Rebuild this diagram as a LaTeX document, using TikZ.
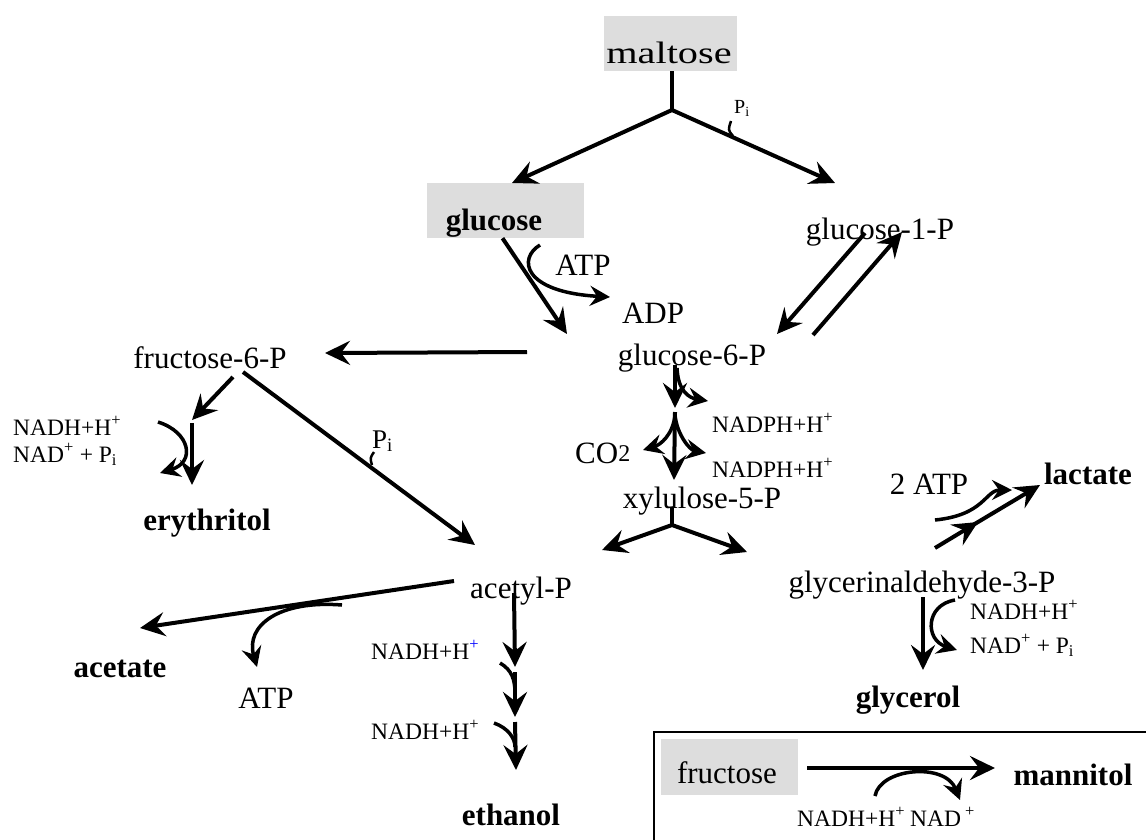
\documentclass[tikz,border=0pt]{standalone}
\usepackage{fontspec}
\setmainfont{Liberation Serif}
\usepackage{graphicx}
\usetikzlibrary{arrows.meta}

\definecolor{boxgray}{RGB}{221,221,221}

\tikzset{
  lbl/.style={font=\fontsize{31}{31}\selectfont, inner sep=0pt, anchor=base},
  lblb/.style={lbl, font=\fontsize{31}{31}\selectfont\bfseries},
  cof/.style={font=\fontsize{23.5}{23.5}\selectfont, inner sep=0pt, anchor=base west},
  pilbl/.style={inner sep=0pt, anchor=base west},
  graybox/.style={fill=boxgray, inner sep=0pt},
  rxn/.style={line width=4pt, -{Stealth[length=25pt,width=24pt,inset=9pt]}},
  side/.style={line width=3.5pt, -{Stealth[length=20pt,width=20pt,inset=7pt]}},
  hook/.style={line width=3.5pt},
}

\begin{document}
\begin{tikzpicture}[x=1pt,y=-1pt]
  \useasboundingbox (0,0) rectangle (1146,839);

  % grey substrates
  \node[graybox, minimum width=133pt, minimum height=55pt] (maltbox) at (670.5,43.5) {};
  \node[lbl] (malt) at (669,63) {\scalebox{1.3}[1]{maltose}};
  \node[graybox, minimum width=157pt, minimum height=55pt] (glcbox) at (505.5,210.5) {};
  \node[lblb] (glc) at (494,230) {glucose};

  \node[lbl] (g1p) at (880,239) {glucose-1-P};
  \node[lbl] (g6p) at (692,365) {glucose-6-P};
  \node[lbl] (f6p) at (210,368) {fructose-6-P};
  \node[lbl] (xu5p) at (702,508) {xylulose-5-P};
  \node[lbl] (acp) at (521,598) {acetyl-P};
  \node[lbl] (gap) at (922,592) {glycerinaldehyde-3-P};

  \node[lblb] (ery) at (207,530) {erythritol};
  \node[lblb] (ace) at (120,677) {acetate};
  \node[lblb] (eth) at (511,825) {ethanol};
  \node[lblb] (lac) at (1088,484) {lactate};
  \node[lblb] (glyc) at (908,707) {glycerol};

  % cofactors
  \node[lbl] (atp1) at (583,275) {ATP};
  \node[lbl] (adp1) at (653,323) {ADP};
  \node[lbl] (atp2) at (266,708) {ATP};
  \node[lbl] (atp3) at (929,494) {2 ATP};
  \node[lbl, anchor=base west] (co2) at (575,463) {CO\raisebox{1.5pt}{\fontsize{24}{24}\selectfont 2}};
  \node[cof] (nadh1) at (13,435) {NADH+H\textsuperscript{+}};
  \node[cof] (nad1) at (13,462) {NAD\textsuperscript{+} + P\textsubscript{i}};
  \node[cof] (nadph1) at (712,432) {NADPH+H\textsuperscript{+}};
  \node[cof] (nadph2) at (712,477) {NADPH+H\textsuperscript{+}};
  \node[cof] (nadh2) at (371,659) {NADH+H\textsuperscript{\textcolor{blue}{+}}};
  \node[cof] (nadh3) at (371,739) {NADH+H\textsuperscript{+}};
  \node[cof] (nadh4) at (970,619) {NADH+H\textsuperscript{+}};
  \node[cof] (nad4) at (970,653) {NAD\textsuperscript{+} + P\textsubscript{i}};
  \node[pilbl, font=\fontsize{20}{20}\selectfont] (pim) at (734,113) {P\textsubscript{i}};
  \node[pilbl, font=\fontsize{27}{27}\selectfont] (pif) at (372,448) {P\textsubscript{i}};

  % end points of the arrows
  \foreach \n/\x/\y in {mfork/672/110, toglc/512/183, tog1p/835/183, pi1/733/136,
      g6pa/567/334, atpa/540/245, atpb/610/297, g1pa/865/233, g6pb/777/334,
      g6pc/813/335, g1pb/902/232, g6pd/527/352, f6pa/325/353, f6pb/233/377,
      erya/192/420, eryb/192/423, eryc/192/485, nad1a/158/422, nad1b/160/473,
      f6pc/243/372, acpa/475/545, pi2/372/465, ppa/675/365, ppb/675/408,
      ppc/675/412, ppd/674/480, nph1a/677/368, nph1b/708/401, co2a/675/415,
      co2b/643/450, nph2b/706/453, xtop/672/507, xfork/672/525, acpb/602/550,
      gapa/747/552, acpc/454/581, acea/140/628, atp2a/342/605, atp2b/257/667,
      etha/514/593, ethb/515/667, ethc/515/672, ethd/515/717, ethe/515/722,
      ethf/516/770, nh1a/500/663, nh1b/515/693, nh2a/494/723, nh2b/515/747,
      gapb/935/548, laca/978/522, lacb/973/525, lacc/1040/485, atp3a/935/520,
      atp3b/1012/490, glyca/923/597, glycb/923/670, nad2a/955/600, nad2b/957/650}
    \coordinate (\n) at (\x,\y);

  % maltose split
  \draw[line width=4pt] (maltbox.south -| mfork) -- (mfork);
  \draw[rxn] (mfork) -- (toglc);
  \draw[rxn] (mfork) -- (tog1p);
  \draw[line width=2.5pt] (pi1) .. controls (728,130) .. (731,121);

  % glucose / glucose-1-P to glucose-6-P
  \draw[rxn] ([xshift=-3pt]glcbox.south) -- (g6pa);
  \draw[side] (atpa) .. controls (518,258) and (522,292) .. (atpb);
  \draw[rxn] (g1pa) -- (g6pb);
  \draw[rxn] (g6pc) -- (g1pb);

  % fructose-6-P branch
  \draw[rxn] (g6pd) -- (f6pa);
  \draw[rxn] (f6pb) -- (erya);
  \draw[rxn] (eryb) -- (eryc);
  \draw[side] (nad1a) .. controls (190,432) and (196,462) .. (nad1b);
  \draw[rxn] (f6pc) -- (acpa);
  \draw[line width=2.5pt] (pi2) .. controls (370,458) .. (374,452);

  % pentose phosphate
  \draw[rxn] (ppa) -- (ppb);
  \draw[side] (nph1a) .. controls (678,392) and (690,398) .. (nph1b);
  \draw[rxn] (ppc) -- (ppd);
  \draw[side] (co2a) .. controls (673,435) and (660,445) .. (co2b);
  \draw[side] (co2a) .. controls (677,435) and (690,450) .. (nph2b);
  \draw[line width=4pt] (xtop) -- (xfork);
  \draw[rxn] (xfork) -- (acpb);
  \draw[rxn] (xfork) -- (gapa);

  % acetyl-P
  \draw[rxn] (acpc) -- (acea);
  \draw[side] (atp2a) .. controls (280,600) and (245,625) .. (atp2b);
  \draw[rxn] (etha) -- (ethb);
  \draw[hook] (nh1a) .. controls (512,670) and (515,680) .. (nh1b);
  \draw[rxn] (ethc) -- (ethd);
  \draw[hook] (nh2a) .. controls (508,728) and (515,738) .. (nh2b);
  \draw[rxn] (ethe) -- (ethf);

  % glycerinaldehyde-3-P
  \draw[rxn] (gapb) -- (laca);
  \draw[rxn] (lacb) -- (lacc);
  \draw[side] (atp3a) .. controls (985,515) and (985,490) .. (atp3b);
  \draw[rxn] (glyca) -- (glycb);
  \draw[side] (nad2a) .. controls (925,605) and (925,640) .. (nad2b);

  % fructose to mannitol
  \draw[line width=2.5pt] (1150,732) -- (654,732) -- (654,845);
  \node[graybox, minimum width=137pt, minimum height=56pt] (frubox) at (729.5,767) {};
  \node[lbl] (fru) at (727,783) {fructose};
  \node[lblb] (mtl) at (1073,785) {mannitol};
  \node[cof] (nadh5) at (797,826) {NADH+H\textsuperscript{+}};
  \node[cof] (nad5) at (910,826) {NAD\,\textsuperscript{+}};
  \coordinate (frua) at (807,768);
  \coordinate (mtla) at (995,768);
  \draw[rxn] (frua) -- (mtla);
  \draw[side] (875,796) .. controls (880,768) and (945,762) .. (960,800);
\end{tikzpicture}
\end{document}
